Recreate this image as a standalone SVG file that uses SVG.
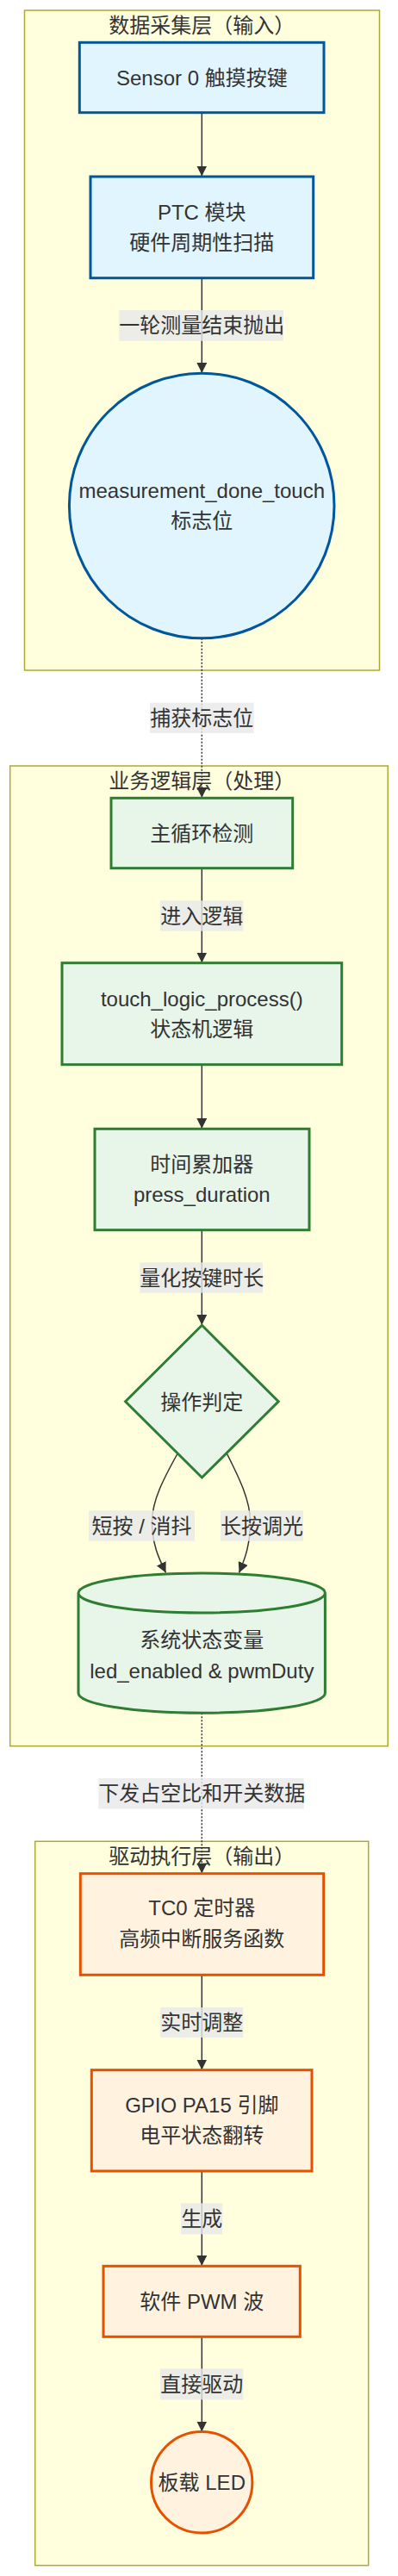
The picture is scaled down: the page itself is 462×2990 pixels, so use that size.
<svg xmlns="http://www.w3.org/2000/svg" width="462" height="2990" viewBox="0 0 462 2990">
<style>
text{font-family:"Liberation Sans","Noto Sans CJK SC",sans-serif;font-size:24px;fill:#333;text-anchor:middle;dominant-baseline:central}
.cluster{fill:#ffffde;stroke:#aaaa33;stroke-width:1.5}
.blue{fill:#e1f5fe;stroke:#01579b;stroke-width:3}
.green{fill:#e8f5e9;stroke:#2e7d32;stroke-width:3}
.orange{fill:#fff3e0;stroke:#e65100;stroke-width:3}
.edge{fill:none;stroke:#333;stroke-width:1.5}
.dotted{stroke-dasharray:2 2}
.lbl{fill:rgba(232,232,232,0.8)}
</style>
<defs>
<marker id="arrow" viewBox="0 0 10 10" refX="10" refY="5" markerUnits="userSpaceOnUse" markerWidth="12" markerHeight="12" orient="auto">
<path d="M0,0 L10,5 L0,10 z" fill="#333"/>
</marker>
</defs>
<rect width="462" height="2990" fill="#ffffff"/>

<g id="cluster-input">
<rect class="cluster" x="28.5" y="12" width="412" height="766"/>
<text x="234.3" y="29.5">数据采集层（输入）</text>
</g>
<g id="cluster-logic">
<rect class="cluster" x="11.7" y="889" width="438.6" height="1137.7"/>
<text x="234.3" y="906.5">业务逻辑层（处理）</text>
</g>
<g id="cluster-output">
<rect class="cluster" x="40.7" y="2137.3" width="387" height="840.4"/>
<text x="234.3" y="2154">驱动执行层（输出）</text>
</g>

<g id="connectors">
<path class="edge" d="M234.3,130.7 L234.3,204.5" marker-end="url(#arrow)"/>
<path class="edge" d="M234.3,322.7 L234.3,433" marker-end="url(#arrow)"/>
<path class="edge dotted" d="M234.3,740.7 L234.3,926" marker-end="url(#arrow)"/>
<path class="edge" d="M234.3,1007.7 L234.3,1117.5" marker-end="url(#arrow)"/>
<path class="edge" d="M234.3,1235.7 L234.3,1310" marker-end="url(#arrow)"/>
<path class="edge" d="M234.3,1427.7 L234.3,1538" marker-end="url(#arrow)"/>
<path class="edge" d="M206.5,1686.5 C190,1716 176.5,1742 176.5,1766 C176.5,1792 184,1808 192.5,1825.5" marker-end="url(#arrow)"/>
<path class="edge" d="M263,1686.5 C278,1716 290.5,1742 290.5,1766 C290.5,1792 285,1808 277.5,1825.5" marker-end="url(#arrow)"/>
<path class="edge dotted" d="M234.3,1988.3 L234.3,2174.5" marker-end="url(#arrow)"/>
<path class="edge" d="M234.3,2292.3 L234.3,2402.5" marker-end="url(#arrow)"/>
<path class="edge" d="M234.3,2520 L234.3,2630" marker-end="url(#arrow)"/>
<path class="edge" d="M234.3,2712.3 L234.3,2822.5" marker-end="url(#arrow)"/>

<rect class="lbl" x="138.3" y="360" width="190.7" height="35.7"/>
<text x="234.3" y="377.8">一轮测量结束抛出</text>
<rect class="lbl" x="174" y="815.7" width="120.7" height="35.3"/>
<text x="234.3" y="833.4">捕获标志位</text>
<rect class="lbl" x="186" y="1045.3" width="96.3" height="35.4"/>
<text x="234.3" y="1063">进入逻辑</text>
<rect class="lbl" x="162.3" y="1465.3" width="142.7" height="35.4"/>
<text x="234.3" y="1483">量化按键时长</text>
<rect class="lbl" x="103" y="1753.3" width="123" height="35.4"/>
<text x="164.5" y="1771">短按 / 消抖</text>
<rect class="lbl" x="256" y="1753.3" width="96" height="35.4"/>
<text x="304" y="1771">长按调光</text>
<rect class="lbl" x="114.3" y="2064" width="238.4" height="35.5"/>
<text x="234.3" y="2081.8">下发占空比和开关数据</text>
<rect class="lbl" x="186" y="2330" width="96.3" height="35"/>
<text x="234.3" y="2347.5">实时调整</text>
<rect class="lbl" x="210" y="2557.3" width="48.3" height="36"/>
<text x="234.3" y="2575.3">生成</text>
<rect class="lbl" x="186" y="2749.3" width="96.3" height="36"/>
<text x="234.3" y="2767.3">直接驱动</text>
</g>

<g id="node-sensor">
<rect class="blue" x="92.3" y="49.3" width="283.7" height="81.4"/>
<text x="234.3" y="90">Sensor 0 触摸按键</text>
</g>
<g id="node-ptc">
<rect class="blue" x="105" y="205" width="258.7" height="117.7"/>
<text x="234.3" y="246.5">PTC 模块</text>
<text x="234.3" y="281.8">硬件周期性扫描</text>
</g>
<g id="node-flag">
<circle class="blue" cx="234.2" cy="587" r="153.8"/>
<text x="234.3" y="569">measurement_done_touch</text>
<text x="234.3" y="604.5">标志位</text>
</g>
<g id="node-mainloop">
<rect class="green" x="129" y="926.3" width="210.7" height="81.4"/>
<text x="234.3" y="967">主循环检测</text>
</g>
<g id="node-logic">
<rect class="green" x="72" y="1117.7" width="324.7" height="118"/>
<text x="234.3" y="1159.3">touch_logic_process()</text>
<text x="234.3" y="1194.5">状态机逻辑</text>
</g>
<g id="node-timer">
<rect class="green" x="110" y="1310.3" width="249" height="117.4"/>
<text x="234.3" y="1351.3">时间累加器</text>
<text x="234.3" y="1386.7">press_duration</text>
</g>
<g id="node-decision">
<polygon class="green" points="234.4,1538.3 323.2,1626.7 234.4,1715 145.6,1626.7"/>
<text x="234.3" y="1627">操作判定</text>
</g>
<g id="node-state">
<path class="green" d="M91,1849 a143.2,23 0 0 0 286.4,0 a143.2,23 0 0 0 -286.4,0 l0,116.3 a143.2,23 0 0 0 286.4,0 l0,-116.3"/>
<text x="234.3" y="1903.5">系统状态变量</text>
<text x="234.3" y="1939.5">led_enabled &amp; pwmDuty</text>
</g>
<g id="node-tc0">
<rect class="orange" x="93.3" y="2174.7" width="282.4" height="117.6"/>
<text x="234.3" y="2214.5">TC0 定时器</text>
<text x="234.3" y="2250">高频中断服务函数</text>
</g>
<g id="node-gpio">
<rect class="orange" x="106.3" y="2402.7" width="255.7" height="117.3"/>
<text x="234.3" y="2443">GPIO PA15 引脚</text>
<text x="234.3" y="2478.3">电平状态翻转</text>
</g>
<g id="node-pwm">
<rect class="orange" x="120" y="2630.3" width="228.3" height="82"/>
<text x="234.3" y="2671">软件 PWM 波</text>
</g>
<g id="node-led">
<circle class="orange" cx="234.2" cy="2881.3" r="58.7"/>
<text x="234.3" y="2881.5">板载 LED</text>
</g>
</svg>
